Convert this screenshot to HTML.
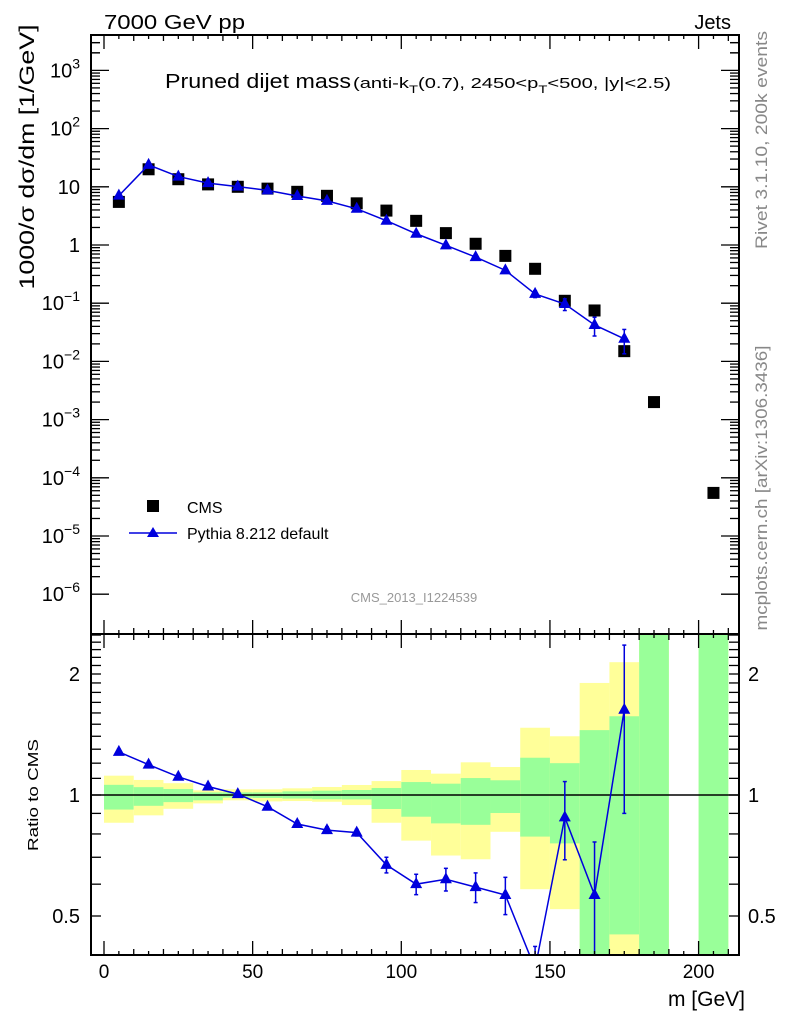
<!DOCTYPE html>
<html><head><meta charset="utf-8"><style>
html,body{margin:0;padding:0;background:#fff;overflow:hidden;width:786px;height:1024px}
svg{display:block;font-family:"Liberation Sans",sans-serif}
</style></head><body>
<svg id="c" width="786" height="1024" viewBox="0 0 786 1024" xmlns="http://www.w3.org/2000/svg">
<text x="104" y="29" font-size="20" textLength="141" lengthAdjust="spacingAndGlyphs">7000 GeV pp</text>
<text x="731" y="29" font-size="20" text-anchor="end">Jets</text>
<text x="165" y="88" font-size="20" textLength="186" lengthAdjust="spacingAndGlyphs">Pruned dijet mass</text>
<text x="353" y="88" font-size="15" textLength="318" lengthAdjust="spacingAndGlyphs">(anti-k<tspan font-size="11" dy="5">T</tspan><tspan dy="-5">(0.7), 2450&lt;p</tspan><tspan font-size="11" dy="5">T</tspan><tspan dy="-5">&lt;500, |y|&lt;2.5)</tspan></text>
<text transform="translate(767,140) rotate(-90)" font-size="17" fill="#888" text-anchor="middle" textLength="218" lengthAdjust="spacingAndGlyphs">Rivet 3.1.10,  200k events</text>
<text transform="translate(767,488) rotate(-90)" font-size="17" fill="#888" text-anchor="middle" textLength="285" lengthAdjust="spacingAndGlyphs">mcplots.cern.ch [arXiv:1306.3436]</text>
<text transform="translate(34,157) rotate(-90)" font-size="21" text-anchor="middle" textLength="265" lengthAdjust="spacingAndGlyphs">1000/σ dσ/dm [1/GeV]</text>
<text transform="translate(38,795) rotate(-90)" font-size="15" text-anchor="middle" textLength="112" lengthAdjust="spacingAndGlyphs">Ratio to CMS</text>
<text x="745" y="1006" font-size="21" text-anchor="end">m [GeV]</text>
<text x="414" y="602" font-size="13" fill="#999" text-anchor="middle">CMS_2013_I1224539</text>
<g>
<rect x="147" y="500" width="12" height="12" fill="#000"/>
<text x="187" y="513" font-size="16">CMS</text>
<line x1="129" y1="533" x2="177" y2="533" stroke="#00d" stroke-width="1.5"/>
<path d="M153 527 L159 537 L147 537 Z" fill="#00d"/>
<text x="187" y="539" font-size="16">Pythia 8.212 default</text>
</g>
<g id="main"></g><g id="ratio"></g><g id="axes"></g>
</svg>
<script>
const xCenters=[5,15,25,35,45,55,65,75,85,95,105,115,125,135,145,155,165,175,185,205];
const cmsVals=[5.5,20,13.5,11,10,9.3,8.2,7,5.2,3.9,2.6,1.6,1.05,0.65,0.39,0.11,0.075,0.015,0.002,5.5e-5];
const mcX=[5,15,25,35,45,55,65,75,85,95,105,115,125,135,145,155,165,175];
const ratioVals=[1.28,1.19,1.11,1.05,1.005,0.935,0.847,0.818,0.806,0.67,0.60,0.617,0.59,0.564,0.37,0.88,0.564,1.63];
const ratioUp=[0.02,0.015,0.012,0.01,0.01,0.01,0.015,0.015,0.015,0.03,0.035,0.04,0.05,0.06,0.05,0.2,0.2,0.73];
const ratioDn=[0.02,0.015,0.012,0.01,0.01,0.01,0.015,0.015,0.015,0.03,0.035,0.04,0.05,0.06,0.05,0.19,0.3,0.73];
const bandLo=[0,10,20,30,40,50,60,70,80,90,100,110,120,130,140,150,160,170,180,200];
const greenHi=[1.06,1.046,1.035,1.015,1.015,1.015,1.021,1.025,1.029,1.041,1.077,1.067,1.102,1.088,1.238,1.2,1.45,1.57,3,3];
const greenLo=[0.92,0.94,0.96,0.97,0.985,0.983,0.98,0.976,0.975,0.923,0.883,0.85,0.843,0.902,0.788,0.758,0.2,0.45,0.2,0.2];
const yelHi=[1.117,1.09,1.07,1.027,1.033,1.033,1.039,1.047,1.059,1.083,1.154,1.13,1.206,1.174,1.47,1.4,1.9,2.14,4,4];
const yelLo=[0.853,0.89,0.924,0.953,0.97,0.964,0.966,0.962,0.944,0.853,0.77,0.707,0.692,0.81,0.583,0.52,0.1,0.1,0.1,0.1];
const xTicks=[0,50,100,150,200];
const yDecades=[-6,-5,-4,-3,-2,-1,0,1,2,3];
const rTicks=[0.5,1,2];

const NS="http://www.w3.org/2000/svg";
const L=91,R=739,T=35,M=634,B=955;
const X=v=>104+v*2.973;
const Y=v=>245-Math.log10(v)*58.2;
const RY=v=>795-Math.log2(v)*121;
function mk(p,tag,at){const e=document.createElementNS(NS,tag);for(const k in at)e.setAttribute(k,at[k]);p.appendChild(e);return e;}
const main=document.getElementById('main'),ratio=document.getElementById('ratio'),axes=document.getElementById('axes');
const defs=mk(document.getElementById('c'),'defs',{});
const cp=mk(defs,'clipPath',{id:'rc'});mk(cp,'rect',{x:L,y:M,width:R-L,height:B-M});
const cp2=mk(defs,'clipPath',{id:'mc'});mk(cp2,'rect',{x:L,y:T,width:R-L,height:M-T});
ratio.setAttribute('clip-path','url(#rc)');

bandLo.forEach((lo,i)=>{
  const w=X(lo+10)-X(lo);
  let e=mk(ratio,'rect',{x:X(lo),y:RY(yelHi[i]),width:w,height:RY(yelLo[i])-RY(yelHi[i]),fill:'#ffff99'});
  
  
  e=mk(ratio,'rect',{x:X(lo),y:RY(greenHi[i]),width:w,height:RY(greenLo[i])-RY(greenHi[i]),fill:'#99ff99'});
  
  
});
mk(ratio,'line',{x1:L,x2:R,y1:RY(1),y2:RY(1),stroke:'#000','stroke-width':1.5});
let rl=mk(ratio,'polyline',{points:mcX.map((x,i)=>X(x)+','+RY(ratioVals[i])).join(' '),fill:'none',stroke:'#00d','stroke-width':1.5});


mcX.forEach((x,i)=>{
  const cx=X(x),cy=RY(ratioVals[i]);
  const y1=RY(ratioVals[i]+ratioUp[i]),y2=RY(Math.max(ratioVals[i]-ratioDn[i],0.05));
  mk(ratio,'line',{x1:cx,x2:cx,y1:y1,y2:y2,stroke:'#00d','stroke-width':1.5});
  mk(ratio,'line',{x1:cx-2,x2:cx+2,y1:y1,y2:y1,stroke:'#00d','stroke-width':1.5});
  mk(ratio,'line',{x1:cx-2,x2:cx+2,y1:y2,y2:y2,stroke:'#00d','stroke-width':1.5});
  const p=mk(ratio,'path',{d:`M${cx} ${cy-7} L${cx+6} ${cy+4} L${cx-6} ${cy+4} Z`,fill:'#00d'});
  
  
});
main.setAttribute('clip-path','url(#mc)');
xCenters.forEach((x,i)=>{
  const r=mk(main,'rect',{x:X(x)-6,y:Y(cmsVals[i])-6,width:12,height:12,fill:'#000'});
  
  
});
const mcVals=mcX.map((x,i)=>ratioVals[i]*cmsVals[i]);
let ml=mk(main,'polyline',{points:mcX.map((x,i)=>X(x)+','+Y(mcVals[i])).join(' '),fill:'none',stroke:'#00d','stroke-width':1.5});


mcX.forEach((x,i)=>{
  const cx=X(x),cy=Y(mcVals[i]);
  const e=ratioUp[i]/ratioVals[i];
  if(e>0.05){const y1=Y(mcVals[i]*(1+e)),y2=Y(mcVals[i]*(1-Math.min(e,0.9)));
    mk(main,'line',{x1:cx,x2:cx,y1:y1,y2:y2,stroke:'#00d','stroke-width':1.5});
    mk(main,'line',{x1:cx-2,x2:cx+2,y1:y1,y2:y1,stroke:'#00d','stroke-width':1.5});
    mk(main,'line',{x1:cx-2,x2:cx+2,y1:y2,y2:y2,stroke:'#00d','stroke-width':1.5});}
  const p=mk(main,'path',{d:`M${cx} ${cy-7} L${cx+6} ${cy+4} L${cx-6} ${cy+4} Z`,fill:'#00d'});
  
  
});
mk(axes,'rect',{x:L,y:T,width:R-L,height:M-T,fill:'none',stroke:'#000','stroke-width':2});
mk(axes,'rect',{x:L,y:M,width:R-L,height:B-M,fill:'none',stroke:'#000','stroke-width':2});
const tk=(x1,y1,x2,y2)=>mk(axes,'line',{x1,y1,x2,y2,stroke:'#000','stroke-width':1.3});
for(let v=0;v<=210;v+=10){const big=v%50===0,x=X(v),l=big?14:6;
  tk(x,T,x,T+l);tk(x,M,x,M-l);tk(x,M,x,M+l);tk(x,B,x,B-l);}
for(let v=5;v<=210;v+=10){const x=X(v);tk(x,T,x,T+4);tk(x,M,x,M-4);tk(x,M,x,M+4);tk(x,B,x,B-4);}
xTicks.forEach(v=>{const t=mk(axes,'text',{x:X(v),y:978,'font-size':19,'text-anchor':'middle'});t.textContent=v;
  
  });
yDecades.forEach(d=>{
  for(let m=1;m<10;m++){const y=Y(m*Math.pow(10,d));if(y<T||y>M)continue;const l=m===1?18:9;tk(L,y,L+l,y);tk(R,y,R-l,y);}
  const y=Y(Math.pow(10,d));const t=mk(axes,'text',{x:80,y:y+7,'font-size':20,'text-anchor':'end'});
  
  
  if(d===0)t.textContent='1';else if(d===1)t.textContent='10';
  else{t.textContent='10';const s=mk(t,'tspan',{dy:-9,'font-size':14});s.textContent=(d<0?'\u2212':'')+Math.abs(d);}
});
for(let m=2;m<10;m++){const y=Y(m*1000);if(y>=T){tk(L,y,L+9,y);tk(R,y,R-9,y);}}
for(let v=0.4;v<2.55;v+=0.1){const y=RY(v);if(y<M||y>B)continue;tk(L,y,L+10,y);tk(R,y,R-10,y);}
rTicks.forEach(v=>{const y=RY(v);
  let t=mk(axes,'text',{x:80,y:y+7,'font-size':20,'text-anchor':'end'});t.textContent=v;
  
  
  t=mk(axes,'text',{x:748,y:y+7,'font-size':20});t.textContent=v;
  
  });
</script>
</body></html>
